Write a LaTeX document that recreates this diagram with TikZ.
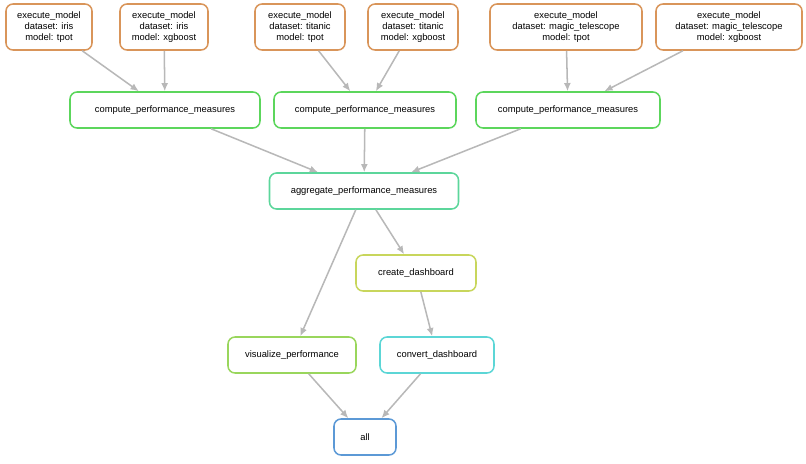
\documentclass[tikz,border=0pt]{standalone}
\usepackage{fontspec}
\setmainfont{Liberation Sans}
\usetikzlibrary{positioning,arrows.meta}
\tikzset{>={Latex[length=7pt,width=6pt]}}
\definecolor{cexec}{HTML}{D9955A}
\definecolor{ccomp}{HTML}{5CD65C}
\definecolor{cagg}{HTML}{5CD69B}
\definecolor{ccreate}{HTML}{C8D65C}
\definecolor{cvis}{HTML}{99D65C}
\definecolor{cconv}{HTML}{5CD6D6}
\definecolor{call}{HTML}{5C99D6}
\definecolor{cedge}{HTML}{B8B8B8}
\begin{document}
\begin{tikzpicture}[x=0.03cm, y=-0.03cm,
    rule/.style={draw, line width=1.3pt, rounded corners=6pt, align=center,
      font=\fontsize{8}{9.6}\selectfont, inner sep=2pt, minimum height=36*0.03cm},
    job/.style={rule, draw=cexec, minimum height=46*0.03cm},
    dep/.style={->, cedge, line width=1.3pt}]
    \useasboundingbox (0,0) rectangle (806,463);
    % execute_model jobs
    \node[job, minimum width=86*0.03cm] (ei1) at (49,27) {execute\_model\\dataset: iris\\model: tpot};
    \node[job, minimum width=88*0.03cm] (ei2) at (164,27) {execute\_model\\dataset: iris\\model: xgboost};
    \node[job, minimum width=90*0.03cm] (et1) at (300,27) {execute\_model\\dataset: titanic\\model: tpot};
    \node[job, minimum width=90*0.03cm] (et2) at (413,27) {execute\_model\\dataset: titanic\\model: xgboost};
    \node[job, minimum width=152*0.03cm] (em1) at (566,27) {execute\_model\\dataset: magic\_telescope\\model: tpot};
    \node[job, minimum width=146*0.03cm] (em2) at (729,27) {execute\_model\\dataset: magic\_telescope\\model: xgboost};
    % performance
    \node[rule, draw=ccomp, minimum width=190*0.03cm] (cp1) at (165,110) {compute\_performance\_measures};
    \node[rule, draw=ccomp, minimum width=182*0.03cm] (cp2) at (365,110) {compute\_performance\_measures};
    \node[rule, draw=ccomp, minimum width=184*0.03cm] (cp3) at (568,110) {compute\_performance\_measures};
    \node[rule, draw=cagg, minimum width=189*0.03cm] (agg) at (364,191) {aggregate\_performance\_measures};
    \node[rule, draw=ccreate, minimum width=120*0.03cm] (cd) at (416,273) {create\_dashboard};
    \node[rule, draw=cvis, minimum width=128*0.03cm] (vis) at (292,355) {visualize\_performance};
    \node[rule, draw=cconv, minimum width=114*0.03cm] (conv) at (437,355) {convert\_dashboard};
    \node[rule, draw=call, minimum width=62*0.03cm] (all) at (365,437) {all};

    \draw[dep] (ei1) -- (cp1);
    \draw[dep] (ei2) -- (cp1);
    \draw[dep] (et1) -- (cp2);
    \draw[dep] (et2) -- (cp2);
    \draw[dep] (em1) -- (cp3);
    \draw[dep] (em2) -- (cp3);
    \draw[dep] (cp1) -- (agg);
    \draw[dep] (cp2) -- (agg);
    \draw[dep] (cp3) -- (agg);
    \draw[dep] (agg) -- (cd);
    \draw[dep] (agg) -- (vis);
    \draw[dep] (cd) -- (conv);
    \draw[dep] (vis) -- (all);
    \draw[dep] (conv) -- (all);
\end{tikzpicture}
\end{document}
